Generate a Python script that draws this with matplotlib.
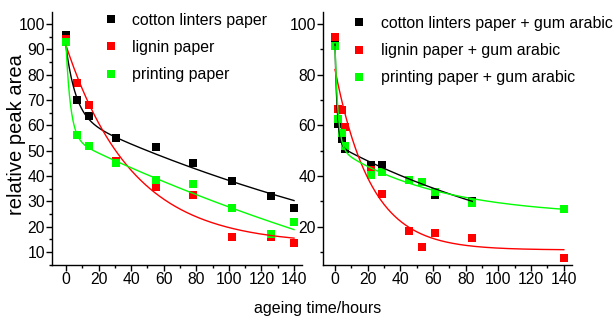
import numpy as np
import matplotlib
matplotlib.use("Agg")
import matplotlib.pyplot as plt
from matplotlib.ticker import MultipleLocator

# ---------------- data ----------------
# left panel
left_x = [0, 7, 14, 31, 55, 78, 102, 126, 140]
left_cotton = [95.5, 70, 63.5, 55, 51.5, 45, 38, 32, 27.5]
left_lignin = [94, 76.5, 68, 46, 35.5, 32.5, 16, 16, 13.5]
left_printing = [93, 56, 52, 45, 38.5, 37, 27.5, 17, 22]
left_labels = ["cotton linters paper", "lignin paper", "printing paper"]

# right panel
right_x_cotton = [0, 2, 4, 6, 22, 29, 45, 53, 61, 84]
right_cotton = [92, 60.6, 54.6, 50.5, 44.3, 44.4, 38.5, 37.5, 32.4, 30.3]
right_x = [0, 2, 4, 6, 22, 29, 45, 53, 61, 84, 140]
right_lignin = [94.8, 66.5, 66.1, 59.3, 42.2, 32.9, 18.2, 11.9, 17.3, 15.7, 7.5]
right_printing = [91.1, 62.6, 56.9, 51.7, 40.2, 41.6, 38.4, 37.7, 33.7, 29.5, 27.0]
right_labels = ["cotton linters paper + gum arabic",
                "lignin paper + gum arabic",
                "printing paper + gum arabic"]

# fitted decay curves: y0 + A1*exp(-x/t1) + A2*exp(-x/t2), x range end
fit_left_cotton = (-20, 27, 6, 84, 273, 140)
fit_left_lignin = (13, 78.5, 40.5, 0, 1, 140)
fit_left_printing = (-54.9, 36.6, 2.85, 110, 350, 140)
fit_right_cotton = (0, 39.5, 1.33, 52.5, 150, 84)
fit_right_lignin = (10.8, 71.2, 21.8, 0, 1, 140)
fit_right_printing = (24, 39.7, 1.9, 27.3, 62, 140)

colors = ["#000000", "#ff0000", "#00ff00"]

# ---------------- style ----------------
FAM = ["Liberation Sans", "DejaVu Sans"]
plt.rcParams["font.family"] = FAM


def curve(p):
    y0, a1, t1, a2, t2, xe = p
    xs = np.linspace(0, xe, 400)
    return xs, y0 + a1 * np.exp(-xs / t1) + a2 * np.exp(-xs / t2)


W, H = 615, 323
fig = plt.figure(figsize=(W / 100, H / 100), dpi=100)

axL = fig.add_axes([52 / W, 1 - 265 / H, 250 / W, 253 / H])
axR = fig.add_axes([323 / W, 1 - 265 / H, 249 / W, 253 / H])


def style(ax, xlim, ymajor, yminor):
    ax.set_xlim(*xlim)
    ax.set_ylim(4.87, 104.7)
    for s in ("top", "right"):
        ax.spines[s].set_visible(False)
    for s in ("left", "bottom"):
        ax.spines[s].set_linewidth(1.0)
    ax.xaxis.set_major_locator(MultipleLocator(20))
    ax.xaxis.set_minor_locator(MultipleLocator(10))
    ax.yaxis.set_major_locator(MultipleLocator(ymajor))
    ax.yaxis.set_minor_locator(MultipleLocator(yminor))
    ax.tick_params(which="major", direction="out", length=4, width=1.0,
                   labelsize=11.3, pad=1.0)
    ax.tick_params(which="minor", direction="out", length=2.5, width=1.0)
    ax.patch.set_alpha(0)


style(axL, (-8.6, 144.9), 10, 5)
style(axR, (-7.35, 145.0), 20, 10)
axL.set_yticks([10, 20, 30, 40, 50, 60, 70, 80, 90, 100])
axR.set_yticks([20, 40, 60, 80, 100])
axL.set_xticks([0, 20, 40, 60, 80, 100, 120, 140])
axR.set_xticks([0, 20, 40, 60, 80, 100, 120, 140])

ms = 5.3
# left
for xs, ys, c, lab in zip([left_x] * 3,
                          [left_cotton, left_lignin, left_printing],
                          colors, left_labels):
    axL.plot(xs, ys, ls="none", marker="s", ms=ms, color=c, mec=c, mew=0, label=lab)
for fp, c in zip([fit_left_cotton, fit_left_lignin, fit_left_printing], colors):
    cx, cy = curve(fp)
    axL.plot(cx, cy, color=c, lw=1.0)

# right
for xs, ys, c, lab in zip([right_x_cotton, right_x, right_x],
                          [right_cotton, right_lignin, right_printing],
                          colors, right_labels):
    axR.plot(xs, ys, ls="none", marker="s", ms=ms, color=c, mec=c, mew=0, label=lab)
for fp, c in zip([fit_right_cotton, fit_right_lignin, fit_right_printing], colors):
    cx, cy = curve(fp)
    axR.plot(cx, cy, color=c, lw=1.0)

legkw = dict(frameon=False, numpoints=1, handlelength=0.8,
             labelspacing=0.78, borderpad=0, borderaxespad=0, fontsize=11.4,
             loc="upper left")
axL.legend(bbox_to_anchor=((104.7 - 52) / 250, 0.998), handletextpad=0.95, **legkw)
axR.legend(bbox_to_anchor=((353.0 - 323) / 249, 0.985), handletextpad=1.0, **legkw)

axL.set_ylabel("relative peak area", fontsize=14.5, va="center")
axL.yaxis.set_label_coords((17 - 52) / 250, (265 - 134.5) / 253)

fig.text(318 / W, 1 - 309 / H, "ageing time/hours", ha="center", va="center",
         fontsize=11.5)

fig.savefig("out.png", dpi=100)
